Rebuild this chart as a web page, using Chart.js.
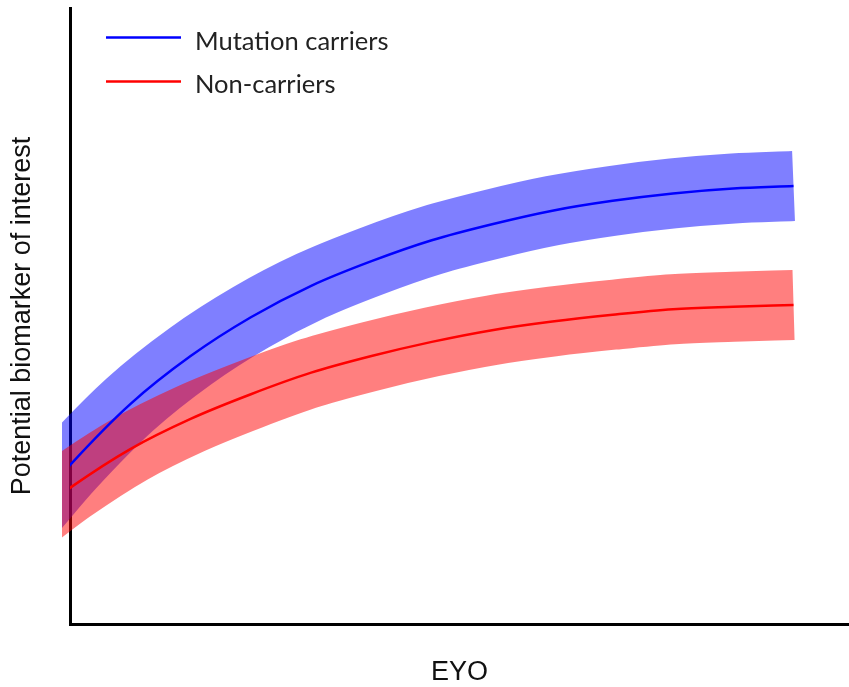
<!DOCTYPE html>
<html>
<head>
<meta charset="utf-8">
<script src="https://cdn.jsdelivr.net/npm/chart.js@4.4.1/dist/chart.umd.min.js"></script>
<style>
  html, body { margin: 0; padding: 0; background: #fff; }
  #wrap { width: 849px; height: 687px; }
</style>
</head>
<body>
<div id="wrap"><canvas id="grafico"></canvas></div>
<script>
// EYO positions (arbitrary units; first one sits just left of the y axis and is clipped)
const eyo = [-31.5, -30, -27.5, -25, -22.5, -20, -17.5, -15, -12.5, -10, -7.5, -5, -2.5, 0];
const carriers = [19.0, 25.8, 35.7, 43.5, 49.8, 54.9, 58.9, 62.3, 64.9, 67.1, 68.7, 69.9, 70.7, 71.1];
const nonCarriers = [17.7, 22.1, 28.4, 33.3, 37.3, 40.8, 43.5, 45.8, 47.7, 49.1, 50.2, 51.1, 51.5, 51.8];
const seriesNames = ["Mutation carriers", "Non-carriers"];

const toPoints = (vals) => eyo.map((x, i) => ({ x, y: vals[i] }));

// legend drawn inside the plot, top left
const legendInside = {
  id: "legendInside",
  afterDraw(chart) {
    const { ctx, chartArea } = chart;
    const items = [
      { label: seriesNames[0], color: "#0000ff", y: 37.5, textY: 50 },
      { label: seriesNames[1], color: "#ff0000", y: 81.5, textY: 93 }
    ];
    ctx.save();
    items.forEach((it) => {
      ctx.strokeStyle = it.color;
      ctx.lineWidth = 2.5;
      ctx.beginPath();
      ctx.moveTo(chartArea.left + 36, it.y);
      ctx.lineTo(chartArea.left + 111, it.y);
      ctx.stroke();
      ctx.fillStyle = "#222";
      ctx.font = "25.5px Lato";
      ctx.textBaseline = "alphabetic";
      ctx.fillText(it.label, chartArea.left + 125, it.textY);
    });
    ctx.restore();
  }
};

const bandClip = { left: 8, top: 0, right: 0, bottom: 0 };
const lineClip = { left: 0, top: 0, right: 0, bottom: 0 };

new Chart(document.getElementById("grafico"), {
  type: "line",
  data: {
    datasets: [
      {
        label: seriesNames[0] + " band",
        data: toPoints(carriers),
        borderColor: "rgba(0,0,255,0.5)",
        borderWidth: 70,
        borderCapStyle: "butt",
        pointRadius: 0,
        cubicInterpolationMode: "monotone",
        clip: bandClip,
        order: 4
      },
      {
        label: seriesNames[1] + " band",
        data: toPoints(nonCarriers),
        borderColor: "rgba(255,0,0,0.5)",
        borderWidth: 70,
        borderCapStyle: "butt",
        pointRadius: 0,
        cubicInterpolationMode: "monotone",
        clip: bandClip,
        order: 3
      },
      {
        label: seriesNames[0],
        data: toPoints(carriers),
        borderColor: "#0000ff",
        borderWidth: 2.5,
        pointRadius: 0,
        cubicInterpolationMode: "monotone",
        clip: lineClip,
        order: 2
      },
      {
        label: seriesNames[1],
        data: toPoints(nonCarriers),
        borderColor: "#ff0000",
        borderWidth: 2.5,
        pointRadius: 0,
        cubicInterpolationMode: "monotone",
        clip: lineClip,
        order: 1
      }
    ]
  },
  options: {
    responsive: true,
    maintainAspectRatio: false,
    animation: false,
    layout: { padding: { top: 8, right: 0, left: 0, bottom: 0 } },
    plugins: {
      legend: { display: false },
      tooltip: { enabled: false }
    },
    scales: {
      x: {
        type: "linear",
        min: -30,
        max: 2.3,
        ticks: { display: false },
        grid: { display: false },
        border: { display: true, color: "#000", width: 3 },
        title: {
          display: true,
          text: "EYO",
          color: "#111",
          font: { family: "Liberation Sans", size: 27, lineHeight: 1 },
          padding: { top: 0, bottom: 1 }
        },
        afterFit: (s) => { s.height = 63; }
      },
      y: {
        min: 0,
        max: 100,
        ticks: { display: false },
        grid: { display: false },
        border: { display: true, color: "#000", width: 3 },
        title: {
          display: true,
          text: "Potential biomarker of interest",
          color: "#111",
          font: { family: "Liberation Sans", size: 27, lineHeight: 1.2 },
          padding: { top: 6, bottom: 0 }
        },
        afterFit: (s) => { s.width = 70; }
      }
    }
  },
  plugins: [legendInside]
});
</script>
</body>
</html>
